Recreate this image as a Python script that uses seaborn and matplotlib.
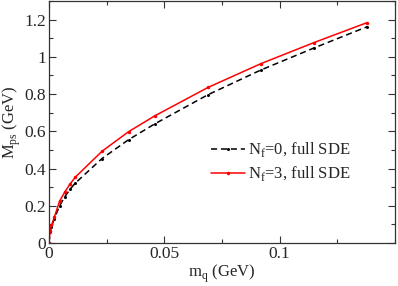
import numpy as np
import pandas as pd
import seaborn as sns
import matplotlib.pyplot as plt
from matplotlib.ticker import MultipleLocator

# quark mass values (GeV)
mq = [0, 0.0005, 0.0011, 0.0023, 0.0046, 0.0069, 0.0092, 0.0115,
      0.023, 0.0345, 0.046, 0.069, 0.092, 0.115, 0.138]
# pseudoscalar mass (GeV)
mps_nf0 = [0, 0.06, 0.088, 0.13, 0.20, 0.25, 0.29, 0.323,
           0.454, 0.555, 0.641, 0.797, 0.930, 1.048, 1.162]
mps_nf3 = [0, 0.064, 0.095, 0.138, 0.225, 0.275, 0.318, 0.355,
           0.493, 0.598, 0.684, 0.836, 0.964, 1.077, 1.184]

labels = [r"N$_\mathregular{f}$=0, full SDE", r"N$_\mathregular{f}$=3, full SDE"]

sns.set_style("ticks")
plt.rcParams["font.family"] = ["Liberation Serif", "DejaVu Serif"]
plt.rcParams["mathtext.fontset"] = "custom"
plt.rcParams["mathtext.rm"] = "Liberation Serif"

fig = plt.figure(figsize=(3.98, 2.86), dpi=100)
ax = fig.add_axes([0.123, 0.150, 0.869, 0.8465])

sns.lineplot(x=mq, y=mps_nf0, ax=ax, color="black", linestyle=(0, (4, 2.5)),
             linewidth=1.1, marker="o", markersize=2.2, markeredgewidth=0,
             label=labels[0], sort=False)
sns.lineplot(x=mq, y=mps_nf3, ax=ax, color="red", linestyle="-",
             linewidth=1.1, marker="o", markersize=2.5, markeredgewidth=0,
             label=labels[1], sort=False)

ax.set_xlim(0, 0.15)
ax.set_ylim(0, 1.3)
ax.xaxis.set_major_locator(MultipleLocator(0.05))
ax.xaxis.set_minor_locator(MultipleLocator(0.025))
ax.yaxis.set_major_locator(MultipleLocator(0.2))
ax.yaxis.set_minor_locator(MultipleLocator(0.1))
ax.set_xticks([0, 0.05, 0.1])
ax.set_xticklabels(["0", "0.05", "0.1"])
ax.set_yticks([0, 0.2, 0.4, 0.6, 0.8, 1.0, 1.2])
ax.set_yticklabels(["0", "0.2", "0.4", "0.6", "0.8", "1", "1.2"])

ax.tick_params(which="both", direction="in", top=True, right=True,
               labelsize=12.5, color="#333333", width=0.8, pad=2)
ax.tick_params(which="major", length=5)
ax.tick_params(which="minor", length=3)
for s in ax.spines.values():
    s.set_color("#333333")
    s.set_linewidth(0.9)

ax.set_xlabel(r"m$_\mathregular{q}$ (GeV)", fontsize=12, labelpad=1)
ax.set_ylabel(r"M$_\mathregular{ps}$ (GeV)", fontsize=12, labelpad=1)

ax.legend(loc="center left", bbox_to_anchor=(0.45, 0.335), frameon=False,
          fontsize=12, handlelength=2.0, handletextpad=0.2, labelspacing=0.3,
          borderaxespad=0)

fig.savefig("out.png", dpi=100)
